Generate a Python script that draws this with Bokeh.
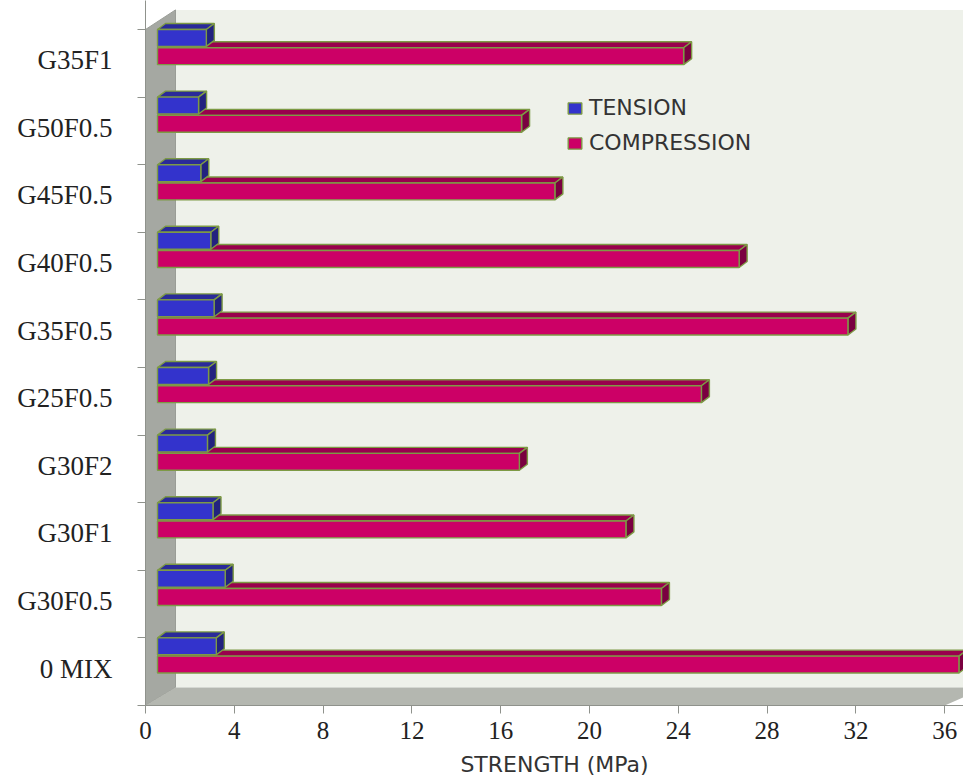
from bokeh.plotting import figure
from bokeh.models import FixedTicker, Legend, LegendItem, Range1d, ColumnDataSource
from bokeh.embed import file_html
from bokeh.resources import INLINE

# Categories from the bottom of the chart to the top
categories = ["0 MIX", "G30F0.5", "G30F1", "G30F2", "G25F0.5",
              "G35F0.5", "G40F0.5", "G45F0.5", "G50F0.5", "G35F1"]
tension = [2.65, 3.05, 2.5, 2.25, 2.3, 2.55, 2.4, 1.95, 1.85, 2.2]
compression = [36.1, 22.7, 21.1, 16.3, 24.5, 31.1, 26.2, 17.9, 16.4, 23.7]
x_ticks = [0, 4, 8, 12, 16, 20, 24, 28, 32, 36]
x_title = "STRENGTH (MPa)"

X_UNIT = 22.2   # pixels per MPa
Y_UNIT = 67.6   # pixels per category
X_MAX = 818 / X_UNIT
Y_MAX = 705 / Y_UNIT
WALL_DX = 30 / X_UNIT
WALL_DY = 18 / Y_UNIT
BASE = 12 / X_UNIT
BAR_DX = 8 / X_UNIT
BAR_DY = 6 / Y_UNIT
N = len(categories)

p = figure(width=963, height=783, output_backend="svg", toolbar_location=None,
           x_range=Range1d(0, X_MAX), y_range=Range1d(0, Y_MAX),
           min_border_left=145, min_border_right=0, min_border_top=0, min_border_bottom=78,
           outline_line_color=None, background_fill_color="white", border_fill_color="white",
           x_axis_label=x_title)
p.grid.visible = False

# 3-D box of the chart
p.patch([WALL_DX, X_MAX + 1, X_MAX + 1, WALL_DX], [WALL_DY, WALL_DY, N + 0.29, N + 0.29],
        fill_color="#eef1ea", line_color=None)
p.patch([0, WALL_DX, WALL_DX, 0], [0, WALL_DY, N + 0.29, N], fill_color="#a5a8a2", line_color="#9a9d97", line_width=1)
p.patch([0, WALL_DX, X_MAX + 1, 36], [0, WALL_DY, WALL_DY, 0],
        fill_color="#b4b7b0", line_color=None)

EDGE = "#7d9a45"


def faces(values, lo, hi):
    top_x, top_y, side_x, side_y = [], [], [], []
    for i, v in enumerate(values):
        x1 = BASE + v
        y0, y1 = i + lo, i + hi
        top_x.append([BASE, BASE + BAR_DX, x1 + BAR_DX, x1])
        top_y.append([y1, y1 + BAR_DY, y1 + BAR_DY, y1])
        side_x.append([x1, x1 + BAR_DX, x1 + BAR_DX, x1])
        side_y.append([y0, y0 + BAR_DY, y1 + BAR_DY, y1])
    return top_x, top_y, side_x, side_y


# Compression: back faces first, since tension bar sits in front of them
tx, ty, sx, sy = faces(compression, 0.48, 0.73)
p.patches(tx, ty, fill_color="#99004d", line_color=EDGE, line_width=1.4)
p.patches(sx, sy, fill_color="#7a0040", line_color=EDGE, line_width=1.4)

# Tension
tx, ty, sx, sy = faces(tension, 0.75, 1.0)
p.patches(tx, ty, fill_color="#2a2a99", line_color=EDGE, line_width=1.4)
p.patches(sx, sy, fill_color="#22227f", line_color=EDGE, line_width=1.4)
src_t = ColumnDataSource(dict(l=[BASE] * N, r=[BASE + v for v in tension],
                              b=[i + 0.75 for i in range(N)], t=[i + 1.0 for i in range(N)]))
r_t = p.quad(left="l", right="r", bottom="b", top="t", source=src_t,
             fill_color="#3333cc", line_color=EDGE, line_width=1.4)

src_c = ColumnDataSource(dict(l=[BASE] * N, r=[BASE + v for v in compression],
                              b=[i + 0.48 for i in range(N)], t=[i + 0.73 for i in range(N)]))
r_c = p.quad(left="l", right="r", bottom="b", top="t", source=src_c,
             fill_color="#cc0066", line_color=EDGE, line_width=1.4)

# Axes
xa = p.xaxis[0]
xa.ticker = FixedTicker(ticks=x_ticks)
xa.major_label_text_font = "Liberation Serif"
xa.major_label_text_font_size = "25px"
xa.major_label_text_color = "#222222"
xa.major_label_standoff = 8
xa.major_tick_in = 0
xa.major_tick_out = 8
xa.minor_tick_line_color = None
xa.axis_line_color = "#8f928c"
xa.major_tick_line_color = "#8f928c"
xa.axis_label_text_font = "DejaVu Sans"
xa.axis_label_text_font_style = "normal"
xa.axis_label_text_font_size = "22px"
xa.axis_label_text_color = "#333333"
xa.axis_label_standoff = 10

ya = p.yaxis[0]
ya.ticker = FixedTicker(ticks=[i + 0.545 for i in range(N)], minor_ticks=list(range(N + 1)))
ya.major_label_overrides = {i + 0.545: c for i, c in enumerate(categories)}
ya.major_label_text_font = "Liberation Serif"
ya.major_label_text_font_size = "27px"
ya.major_label_text_color = "#222222"
ya.major_label_standoff = 25
ya.major_tick_in = 0
ya.major_tick_out = 0
ya.minor_tick_in = 0
ya.minor_tick_out = 8
ya.minor_tick_line_color = "#8f928c"
ya.axis_line_color = "#8f928c"

legend = Legend(items=[LegendItem(label="TENSION", renderers=[r_t]),
                       LegendItem(label="COMPRESSION", renderers=[r_c])],
                location=(421, 550), background_fill_alpha=0, border_line_color=None,
                glyph_width=17, glyph_height=14, label_text_font="DejaVu Sans",
                label_text_font_size="22px", label_text_color="#333333",
                label_standoff=6, spacing=10, padding=0, margin=0, label_height=18)
p.add_layout(legend, "center")

open("out.html", "w").write(file_html(p, INLINE))
